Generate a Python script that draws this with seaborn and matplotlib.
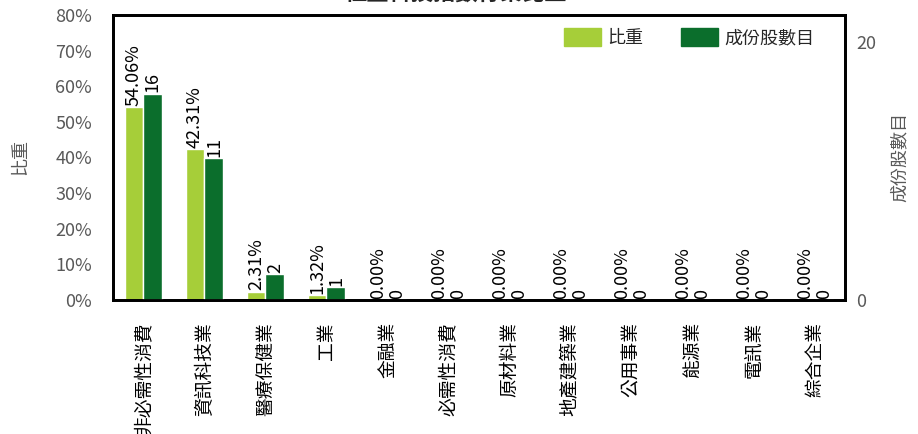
import numpy as np
import pandas as pd
import seaborn as sns
import matplotlib.pyplot as plt
from matplotlib.patches import Patch

# --------------------------------------------------#
# Data
# --------------------------------------------------#

categories = ["非必需性消費", "資訊科技業", "醫療保健業", "工業", "金融業", "必需性消費",
              "原材料業", "地產建築業", "公用事業", "能源業", "電訊業", "綜合企業"]
weights = [0.5406, 0.4231, 0.0231, 0.0132, 0, 0, 0, 0, 0, 0, 0, 0]
counts = [16, 11, 2, 1, 0, 0, 0, 0, 0, 0, 0, 0]
series = ["比重", "成份股數目"]

col_w = "#a6ce39"
col_c = "#0b6e2c"
txt_gray = "#595959"

sns.set_style("white")
plt.rcParams["font.family"] = ["Noto Sans CJK TC", "DejaVu Sans"]

df = pd.DataFrame({"cat": categories, "weight": weights, "count": counts})

# --------------------------------------------------#
# Plot
# --------------------------------------------------#

fig, ax = plt.subplots(figsize=(9.18, 4.34), dpi=100)
fig.subplots_adjust(left=0.123, right=0.9205, top=0.9654, bottom=0.3088)
ax2 = ax.twinx()

bw = 0.31
sns.barplot(data=df, x="cat", y="weight", order=categories, color=col_w, width=bw,
            ax=ax, errorbar=None, saturation=1)
sns.barplot(data=df, x="cat", y="count", order=categories, color=col_c, width=bw,
            ax=ax2, errorbar=None, saturation=1)

# dodge the two series side by side
for p in ax.patches:
    p.set_x(p.get_x() - bw / 2)
for p in ax2.patches:
    p.set_x(p.get_x() + bw / 2)

ax.bar_label(ax.containers[0], labels=[f"{v*100:.2f}%" for v in weights], rotation=90,
             padding=1, fontsize=13, color="black")
ax2.bar_label(ax2.containers[0], labels=[str(v) for v in counts], rotation=90,
              padding=1, fontsize=13, color="black")

ax.set_xlim(-0.5, len(categories) - 0.5)
ax.set_ylim(0, 0.8)
ax.set_yticks(np.arange(0, 0.81, 0.1))
ax.set_yticklabels([f"{int(round(t*100))}%" for t in np.arange(0, 0.81, 0.1)],
                   fontsize=13, color=txt_gray)
ax2.set_ylim(0, 22.1)
ax2.set_yticks([0, 20])
ax2.set_yticklabels(["0", "20"], fontsize=13, color=txt_gray)

ax.set_xlabel("")
ax2.set_xlabel("")
ax.set_ylabel("比重", fontsize=13, color=txt_gray)
ax.yaxis.set_label_coords(-0.115, 0.5)
ax2.set_ylabel("成份股數目", fontsize=13, color=txt_gray, rotation=90, va="center")
ax2.yaxis.set_label_coords(1.075, 0.5)
ax.set_xticks(range(len(categories)))
ax.set_xticklabels(categories, rotation=90, fontsize=13.5, color="black", va="top")
ax.tick_params(axis="x", length=0, pad=16)
ax.tick_params(axis="y", length=0, pad=15)
ax2.tick_params(axis="y", length=0, pad=8)

for a in (ax, ax2):
    for s in a.spines.values():
        s.set_color("black")
        s.set_linewidth(2)

handles = [Patch(color=col_w), Patch(color=col_c)]
ax.legend(handles, series, loc="upper right", ncol=2, frameon=False, fontsize=13,
          handlelength=2.05, handleheight=1.1, handletextpad=0.35, columnspacing=2.1,
          bbox_to_anchor=(0.98, 1.01))

fig.text(0.497, 0.99, "恒生科技指數行業比重", ha="center", va="bottom",
         fontsize=16, fontweight="bold")

fig.savefig("out.png", dpi=100)
